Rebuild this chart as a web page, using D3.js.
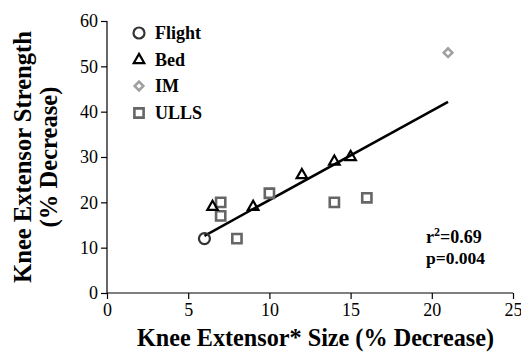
<!DOCTYPE html>
<html><head><meta charset="utf-8">
<script src="https://cdn.jsdelivr.net/npm/d3@7"></script>
<style>
body{margin:0;background:#fff;}
</style></head>
<body><svg id="c" width="521" height="354"></svg>
<script>
// Data
const flight = [{x:6, y:12}];
const bed = [{x:6.5,y:19},{x:9,y:19},{x:12,y:26},{x:14,y:29},{x:15,y:30}];
const im = [{x:21,y:53}];
const ulls = [{x:7,y:20},{x:7,y:17},{x:8,y:12},{x:10,y:22},{x:14,y:20},{x:16,y:21}];
const fitRange = [6, 21];
const fitSlope = 1.97, fitIntercept = 0.8;
const xTicks = [0,5,10,15,20,25];
const yTicks = [0,10,20,30,40,50,60];
const legendLabels = ["Flight","Bed","IM","ULLS"];
const stats = ["r", "2", "=0.69", "p=0.004"];

const FONT = "Liberation Serif";
const svg = d3.select("#c");
const x = d3.scaleLinear().domain([0,25]).range([107,513]);
const y = d3.scaleLinear().domain([0,60]).range([293,21]);

// axes
const gx = svg.append("g").attr("transform","translate(0,293)")
  .call(d3.axisBottom(x).tickValues(xTicks).tickSize(6).tickPadding(4).tickSizeOuter(0));
const gy = svg.append("g").attr("transform","translate(107,0)")
  .call(d3.axisLeft(y).tickValues(yTicks).tickSize(6).tickPadding(3).tickSizeOuter(0));
[gx,gy].forEach(g=>{
  g.attr("font-family",FONT).attr("font-size",18);
  g.select(".domain").attr("stroke","#000").attr("stroke-width",1.2);
  g.selectAll(".tick line").attr("stroke","#000").attr("stroke-width",1.2);
  g.selectAll(".tick text").attr("fill","#000").attr("font-family",FONT).attr("font-size",18);
});
gx.select(".domain").attr("d","M107,0H513");
gy.select(".domain").attr("d","M0,21V293");

// regression line
svg.append("line")
  .attr("x1",x(fitRange[0])).attr("y1",y(fitIntercept+fitSlope*fitRange[0]))
  .attr("x2",x(fitRange[1])).attr("y2",y(fitIntercept+fitSlope*fitRange[1]))
  .attr("stroke","#000").attr("stroke-width",2.5);

const styles = {
  Flight:{sym:d3.symbolCircle,size:95,color:"#333",sw:2.2,rot:0},
  Bed:{sym:d3.symbolTriangle,size:48,color:"#000",sw:2.2,rot:0},
  IM:{sym:d3.symbolSquare,size:38,color:"#a0a0a0",sw:2.5,rot:45},
  ULLS:{sym:d3.symbolSquare,size:85,color:"#666",sw:2.6,rot:0}
};
function draw(data,key){
  const s=styles[key];
  svg.append("g").selectAll("path").data(data).join("path")
    .attr("d",d3.symbol().type(s.sym).size(s.size))
    .attr("transform",d=>`translate(${x(d.x)},${y(d.y)}) rotate(${s.rot})`)
    .attr("fill","none").attr("stroke",s.color).attr("stroke-width",s.sw);
}
draw(ulls,"ULLS"); draw(im,"IM"); draw(bed,"Bed"); draw(flight,"Flight");

// legend
const legY=[33,60,86,113];
legendLabels.forEach((l,i)=>{
  const s=styles[l];
  svg.append("path").attr("d",d3.symbol().type(s.sym).size(s.size)())
    .attr("transform",`translate(139,${legY[i]}) rotate(${s.rot})`)
    .attr("fill","none").attr("stroke",s.color).attr("stroke-width",s.sw);
  svg.append("text").attr("x",155).attr("y",legY[i]+6).text(l)
    .attr("font-family",FONT).attr("font-weight","bold").attr("font-size",18).attr("fill","#000");
});

// stats
const t1=svg.append("text").attr("x",426).attr("y",243).attr("font-family",FONT).attr("font-size",18).attr("font-weight","bold");
t1.append("tspan").text(stats[0]);
t1.append("tspan").attr("dy",-7).attr("font-size",12).text(stats[1]);
t1.append("tspan").attr("dy",7).text(stats[2]);
svg.append("text").attr("x",426).attr("y",264).attr("font-family",FONT).attr("font-size",17.5).attr("font-weight","bold").text(stats[3]);

// axis titles
svg.append("text").attr("x",(138+493)/2).attr("y",346).attr("text-anchor","middle")
  .attr("font-family",FONT).attr("font-weight","bold").attr("font-size",24.2).text("Knee Extensor* Size (% Decrease)");
const yt=svg.append("text").attr("transform","translate(0,157) rotate(-90)").attr("text-anchor","middle")
  .attr("font-family",FONT).attr("font-weight","bold").attr("font-size",24.6);
yt.append("tspan").attr("x",0).attr("y",31).text("Knee Extensor Strength");
yt.append("tspan").attr("x",0).attr("y",57).text("(% Decrease)");
</script></body></html>
